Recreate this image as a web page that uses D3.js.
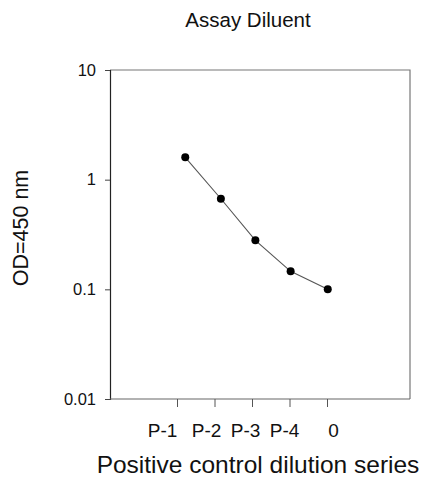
<!DOCTYPE html>
<html>
<head>
<meta charset="utf-8">
<script src="https://cdn.jsdelivr.net/npm/d3@7"></script>
<style>
  html, body { margin: 0; padding: 0; background: #fff; }
  text { font-family: Arial, "Liberation Sans", sans-serif; fill: #111; }
</style>
</head>
<body>
<svg id="chart" width="433" height="483"></svg>
<script>
// Data
const categories = ["P-1", "P-2", "P-3", "P-4", "0"];
const tickPositions = [1, 2, 3, 4, 5];
const pointPositions = [1.22, 2.17, 3.09, 4.03, 5.02];
const odValues = [1.6, 0.67, 0.28, 0.146, 0.1];
const yTicks = [0.01, 0.1, 1, 10];
const yTickLabels = ["0.01", "0.1", "1", "10"];

const svg = d3.select("#chart");
const box = { left: 110, right: 410, top: 70, bottom: 399 };
const FONT = "Arial, 'Liberation Sans', sans-serif";

const x = d3.scaleLinear().domain([1, 5]).range([177, 327]);
const y = d3.scaleLog().domain([0.01, 10]).range([box.bottom, box.top]);

// frame (top & right)
svg.append("path")
  .attr("d", `M${box.left},${box.top}H${box.right}V${box.bottom}`)
  .attr("fill", "none").attr("stroke", "#777").attr("stroke-width", 1.2);

// y axis
const yAxis = d3.axisLeft(y).tickValues(yTicks)
  .tickFormat((d, i) => yTickLabels[i]).tickSizeOuter(0).tickSize(5).tickPadding(9);
const gy = svg.append("g").attr("transform", `translate(${box.left},0)`).call(yAxis);
gy.attr("font-size", null).attr("font-family", null);
gy.select(".domain").attr("stroke", "#222").attr("stroke-width", 1.2);
gy.selectAll(".tick line").attr("stroke", "#444");
gy.selectAll(".tick text").style("font-size", "16.5px").attr("fill", "#111")
  .style("font-family", FONT);

// x axis
svg.append("line").attr("x1", box.left).attr("x2", box.right)
  .attr("y1", box.bottom).attr("y2", box.bottom)
  .attr("stroke", "#666").attr("stroke-width", 1.2);
const xAxis = d3.axisBottom(x).tickValues(tickPositions)
  .tickFormat((d, i) => categories[i]).tickSizeOuter(0).tickSize(8).tickPadding(17);
const gx = svg.append("g").attr("transform", `translate(0,${box.bottom})`).call(xAxis);
gx.attr("font-size", null).attr("font-family", null);
gx.select(".domain").remove();
gx.selectAll(".tick line").attr("stroke", "#555");
const labelShift = [-15, -8.5, -7, -5.5, 6];
gx.selectAll(".tick text").style("font-size", "19px").attr("fill", "#111")
  .style("font-family", FONT)
  .attr("dx", (d, i) => labelShift[i]);

// line & points
const pts = pointPositions.map((p, i) => ({ p, v: odValues[i] }));
svg.append("path").datum(pts)
  .attr("d", d3.line().x(d => x(d.p)).y(d => y(d.v)))
  .attr("fill", "none").attr("stroke", "#555").attr("stroke-width", 1.1);
svg.selectAll("circle.pt").data(pts).enter().append("circle")
  .attr("class", "pt")
  .attr("cx", d => x(d.p)).attr("cy", d => y(d.v)).attr("r", 4)
  .attr("fill", "#000");

// title & axis labels
svg.append("text").attr("x", 248).attr("y", 27).attr("text-anchor", "middle")
  .style("font-size", "20.5px").text("Assay Diluent");
svg.append("text").attr("transform", "translate(28,228) rotate(-90)")
  .attr("text-anchor", "middle").style("font-size", "21.5px").text("OD=450 nm");
svg.append("text").attr("x", 258).attr("y", 473).attr("text-anchor", "middle")
  .style("font-size", "24.5px").text("Positive control dilution series");
</script>
</body>
</html>
